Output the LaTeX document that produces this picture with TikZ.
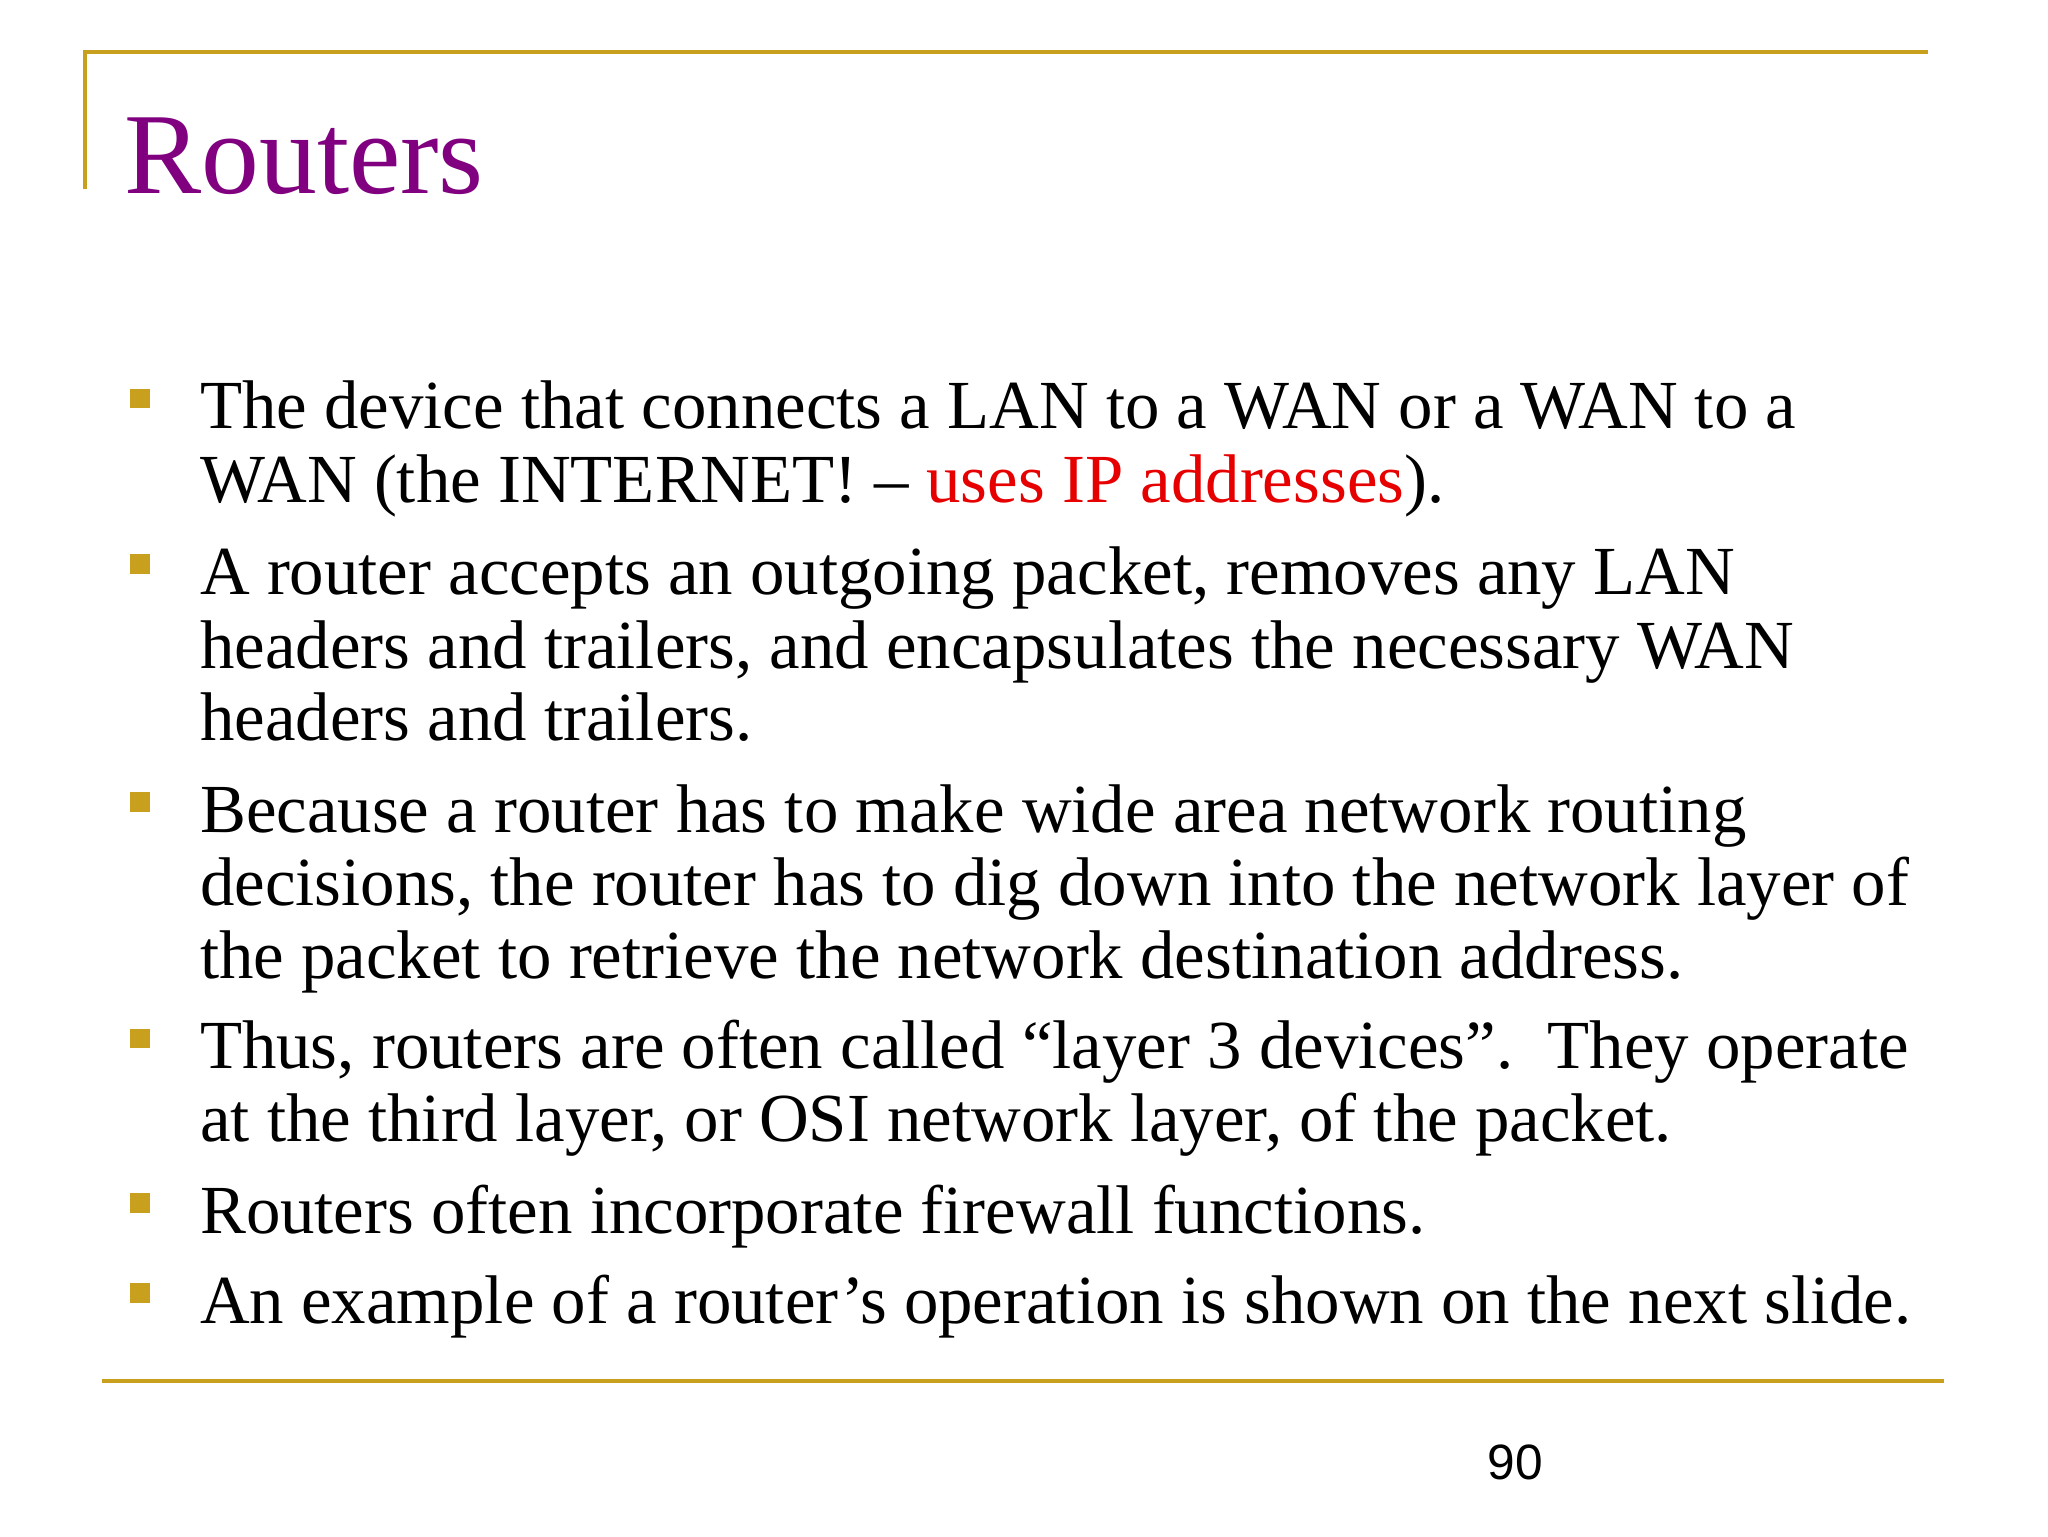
\documentclass[tikz,border=0pt]{standalone}
\usepackage{fontspec}
\setmainfont{Liberation Serif}
\newfontfamily\pgsans{Liberation Sans}
\definecolor{gold}{RGB}{200,160,30}
\definecolor{ttl}{RGB}{128,0,128}
\definecolor{redtxt}{RGB}{230,0,0}
\begin{document}
\begin{tikzpicture}[x=1pt,y=-1pt,
  txt/.style={anchor=base west,inner sep=0pt,font=\fontsize{52.7}{60}\selectfont},
  bul/.style={fill=gold,draw=none,minimum size=15pt,inner sep=0pt}]
\useasboundingbox (0,0) rectangle (1568,1176);
\fill[white] (0,0) rectangle (1568,1176);
\coordinate (tl) at (65,145); \coordinate (tc) at (65,40); \coordinate (tr) at (1476,40);
\draw[gold,line width=3pt] (tl) -- (tc) -- (tr);
\node[anchor=base west,inner sep=0pt,text=ttl,font=\fontsize{88.5}{100}\selectfont] (title) at (95,148) {Routers};
\node[bul] (b1) at (107,305) {};
\node[txt] (l1) at (153,328) {The device that connects a LAN to a WAN or a WAN to a};
\node[txt] (l2) at (153,385) {WAN (the INTERNET! -- \textcolor{redtxt}{uses IP addresses}).};
\node[bul] (b2) at (107,432) {};
\node[txt] (l3) at (153,455) {A router accepts an outgoing packet, removes any LAN};
\node[txt] (l4) at (153,512) {headers and trailers, and encapsulates the necessary WAN};
\node[txt] (l5) at (153,567) {headers and trailers.};
\node[bul] (b3) at (107,614) {};
\node[txt] (l6) at (153,637) {Because a router has to make wide area network routing};
\node[txt] (l7) at (153,693) {decisions, the router has to dig down into the network layer of};
\node[txt] (l8) at (153,749) {the packet to retrieve the network destination address.};
\node[bul] (b4) at (107,795) {};
\node[txt] (l9) at (153,818) {Thus, routers are often called “layer 3 devices”.\ \ They operate};
\node[txt] (l10) at (153,874) {at the third layer, or OSI network layer, of the packet.};
\node[bul] (b5) at (107,921) {};
\node[txt] (l11) at (153,944) {Routers often incorporate firewall functions.};
\node[bul] (b6) at (107,990) {};
\node[txt] (l12) at (153,1013) {An example of a router’s operation is shown on the next slide.};
\coordinate (bl) at (78,1057); \coordinate (br) at (1488,1057);
\draw[gold,line width=3pt] (bl) -- (br);
\node[anchor=base,inner sep=0pt,font=\pgsans\fontsize{38}{44}\selectfont] (pg) at (1160,1133) {90};
\end{tikzpicture}
\end{document}
